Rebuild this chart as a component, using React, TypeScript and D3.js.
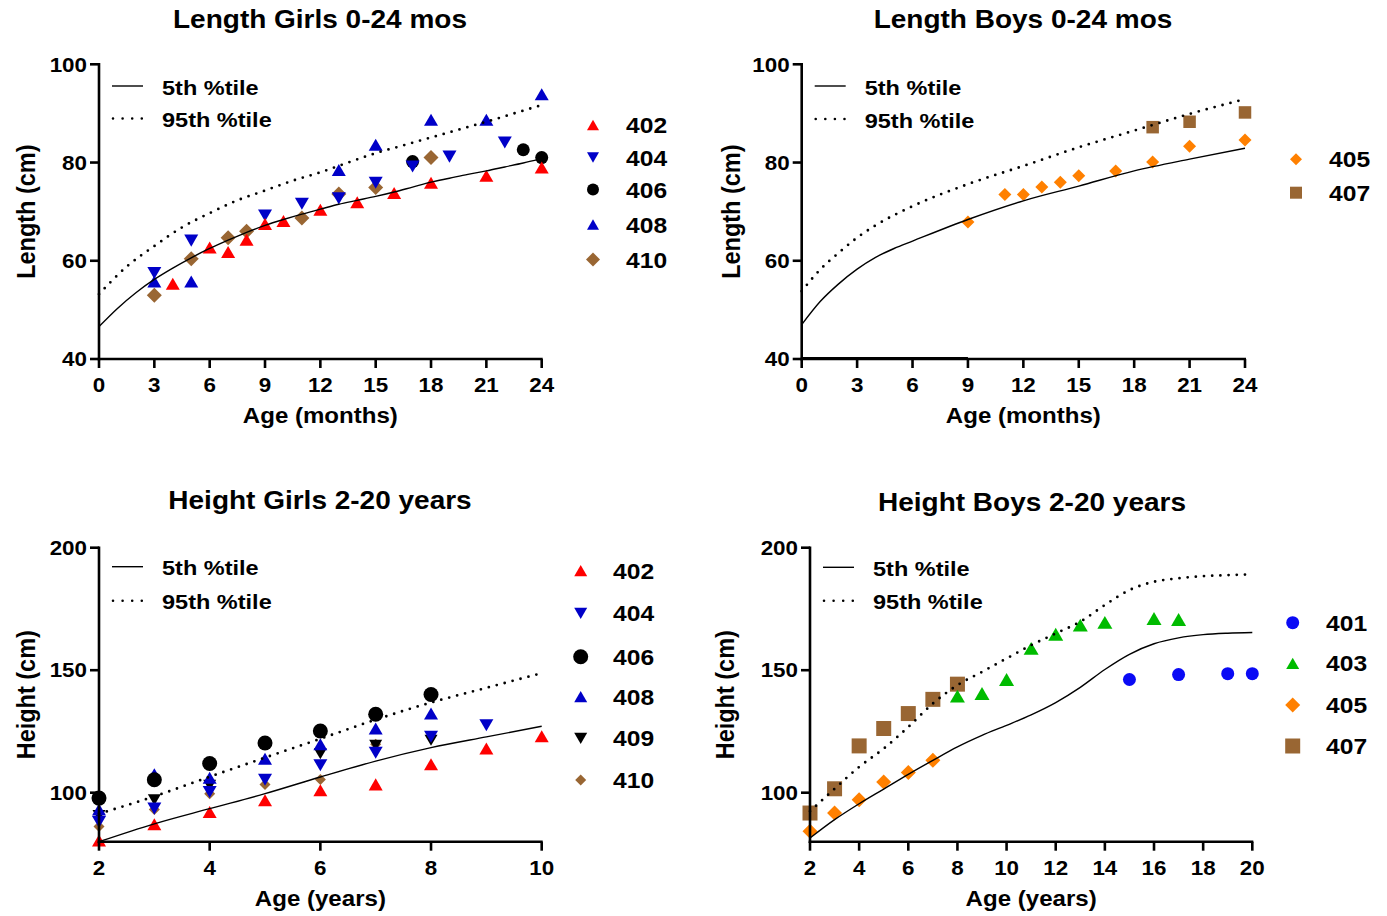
import React from "react";
import * as d3 from "d3";

const FONT = '"Liberation Sans", Arial, Helvetica, sans-serif';
const SX = 1.12; // horizontal widening of all lettering

// ---------- Length Girls 0-24 months ----------
const girls5Months = [0, 1, 2, 3, 4, 5, 6, 7, 8, 9, 10, 11, 12, 13, 14, 15, 16, 17, 18, 19, 20, 21, 22, 23, 24];
const girls5Length = [46.6, 50.3, 53.5, 56.2, 58.5, 60.6, 62.5, 64.2, 65.8, 67.2, 68.4, 69.5, 70.5, 71.5, 72.3, 73.1, 74.0, 75.0, 76.0, 76.8, 77.6, 78.3, 79.1, 79.9, 80.8];
const girls95Months = [0, 1.5, 3, 4.5, 6, 7.5, 9, 10.5, 12, 13.5, 15, 16.5, 18, 19.5, 21, 22.5, 24];
const girls95Length = [53.2, 58.8, 63.0, 66.8, 69.7, 72.3, 74.3, 76.3, 78.0, 80.0, 81.9, 83.5, 85.1, 86.7, 88.3, 90.0, 91.7];

const lg402Months = [4, 6, 7, 8, 9, 10, 12, 14, 16, 18, 21, 24];
const lg402Length = [55.3, 62.7, 61.8, 64.3, 67.5, 68.1, 70.4, 71.9, 73.8, 75.9, 77.3, 79.0];
const lg404Months = [3, 5, 9, 11, 13, 15, 17, 19, 22];
const lg404Length = [57.5, 64.1, 69.2, 71.6, 72.7, 75.9, 79.2, 81.2, 84.1];
const lg406Months = [17, 23, 24];
const lg406Length = [80.2, 82.6, 81.0];
const lg408Months = [3, 5, 13, 15, 18, 21, 24];
const lg408Length = [55.8, 55.8, 78.5, 83.6, 88.7, 88.7, 93.9];
const lg410Months = [3, 5, 7, 8, 11, 13, 15, 18];
const lg410Length = [53.0, 60.4, 64.7, 66.0, 68.7, 73.6, 74.9, 81.0];

// ---------- Length Boys 0-24 months ----------
const boys5Months = [0, 1, 2, 3, 4, 5, 6, 9, 12, 15, 18, 21, 24];
const boys5Length = [47.0, 51.7, 55.3, 58.3, 60.7, 62.5, 64.0, 68.4, 72.2, 75.2, 78.3, 80.7, 82.9];
const boys95Months = [0, 1, 2, 3, 4, 6, 9, 12, 15, 18, 21, 24];
const boys95Length = [53.8, 58.2, 61.6, 64.7, 67.2, 71.1, 75.6, 79.3, 83.1, 86.5, 89.9, 92.9];

const lb405Months = [9, 11, 12, 13, 14, 15, 17, 19, 21, 24];
const lb405Length = [67.9, 73.5, 73.5, 75.0, 76.0, 77.3, 78.3, 80.1, 83.3, 84.6];
const lb407Months = [19, 21, 24];
const lb407Length = [87.2, 88.3, 90.2];

// ---------- Height Girls 2-20 years ----------
const hGirlsYears = [2, 3, 4, 5, 6, 7, 8, 9, 10];
const hGirls5 = [80.0, 87.3, 93.5, 99.6, 106.4, 112.9, 118.4, 122.8, 127.1];
const hGirls95 = [91.4, 98.5, 106.5, 114.3, 122.0, 129.8, 136.8, 142.8, 148.8];

const hg402Years = [2, 3, 4, 5, 6, 7, 8, 9, 10];
const hg402Height = [80.5, 87.1, 92.1, 96.9, 101.0, 103.4, 111.6, 118.0, 123.0];
const hg404Years = [2, 3, 4, 5, 6, 7, 8, 9];
const hg404Height = [88.0, 93.5, 100.3, 105.3, 111.2, 116.3, 122.8, 127.5];
const hg406Years = [2, 3, 4, 5, 6, 7, 8];
const hg406Height = [97.8, 105.3, 111.9, 120.3, 125.2, 132.0, 140.1];
const hg408Years = [2, 3, 4, 5, 6, 7, 8];
const hg408Height = [93.1, 107.5, 106.1, 113.9, 119.8, 126.2, 132.3];
const hg409Years = [2, 3, 4, 6, 7, 8];
const hg409Height = [90.7, 97.1, 103.0, 115.9, 119.3, 121.4];
const hg410Years = [2, 3, 4, 5, 6, 7];
const hg410Height = [86.2, 93.1, 99.6, 103.3, 105.4, 119.8];

// ---------- Height Boys 2-20 years ----------
const hBoysYears = [2, 3, 4, 5, 6, 7, 8, 9, 10, 11, 12, 13, 14, 15, 16, 17, 18, 19, 20];
const hBoys5 = [81.5, 89.0, 95.5, 101.5, 107.5, 113.2, 118.7, 123.4, 127.5, 131.8, 136.8, 143.0, 150.3, 156.5, 160.8, 163.2, 164.5, 165.1, 165.4];
const hBoys95 = [92.4, 101.6, 110.5, 118.0, 126.8, 136.4, 143.9, 149.3, 154.8, 160.2, 165.0, 169.8, 176.6, 182.7, 186.1, 187.5, 188.4, 188.8, 189.1];

const hb401Years = [15, 17, 19, 20];
const hb401Height = [146.2, 148.2, 148.6, 148.6];
const hb403Years = [8, 9, 10, 11, 12, 13, 14, 16, 17];
const hb403Height = [139.4, 140.5, 146.2, 158.9, 164.7, 168.4, 169.5, 171.1, 170.7];
const hb405Years = [2, 3, 4, 5, 6, 7];
const hb405Height = [84.3, 91.7, 97.1, 104.4, 108.2, 113.2];
const hb407Years = [2, 3, 4, 5, 6, 7, 8];
const hb407Height = [91.7, 101.6, 119.1, 126.2, 132.3, 138.1, 144.3];

const RED = "#ff0000";
const NAVY = "#0000c8";
const BLUE = "#0a0af5";
const BLACK = "#000000";
const BROWN = "#996633";
const ORANGE = "#ff8000";
const GREEN = "#00bb00";

type Shape = "up" | "down" | "circle" | "diamond" | "square";

interface Series {
  name: string;
  color: string;
  shape: Shape;
  size: number; // plot marker size
  lsize: number; // legend marker size
  xs: number[];
  ys: number[];
}

function markerPath(shape: Shape, s: number): string {
  if (shape === "up" || shape === "down") {
    const w = s;
    const h = s * 0.86;
    const sg = shape === "up" ? 1 : -1;
    return `M0,${(-sg * h) / 2}L${w / 2},${(sg * h) / 2}L${-w / 2},${(sg * h) / 2}Z`;
  }
  if (shape === "diamond") {
    const r = s / 2;
    return `M0,${-r}L${r},0L0,${r}L${-r},0Z`;
  }
  if (shape === "square") {
    const r = s / 2;
    return `M${-r},${-r}H${r}V${r}H${-r}Z`;
  }
  const r = s / 2;
  return `M${-r},0A${r},${r},0,1,1,${r},0A${r},${r},0,1,1,${-r},0Z`;
}

function Marker({ shape, size, color, x, y }: { shape: Shape; size: number; color: string; x: number; y: number }) {
  return <path d={markerPath(shape, size)} fill={color} transform={`translate(${x},${y})`} />;
}

function Txt({
  x, y, size, children, anchor = "start", rotate = false, baseline,
}: {
  x: number; y: number; size: number; children: React.ReactNode; anchor?: string; rotate?: boolean; baseline?: string;
}) {
  const tf = rotate
    ? `translate(${x},${y}) rotate(-90) scale(1,${SX})`
    : `translate(${x},${y}) scale(${SX},1)`;
  return (
    <text
      transform={tf}
      fontFamily={FONT}
      fontWeight="bold"
      fontSize={size}
      textAnchor={anchor as any}
      dominantBaseline={baseline as any}
      fill="#000"
    >
      {children}
    </text>
  );
}

interface PanelProps {
  title: string;
  titleX: number;
  titleY: number;
  xLabel: string;
  yLabel: string;
  yLabelX: number;
  xDomain: [number, number];
  yDomain: [number, number];
  xTicks: number[];
  yTicks: number[];
  left: number;
  right: number;
  top: number;
  bottom: number;
  p5x: number[];
  p5y: number[];
  p95x: number[];
  p95y: number[];
  series: Series[];
  legendLineY: [number, number];
  legendMarkX: number;
  legendLabelX: number;
  legendRows: number[];
  axisExtraTo?: number;
}

function Panel(p: PanelProps) {
  const x = d3.scaleLinear().domain(p.xDomain).range([p.left, p.right]);
  const y = d3.scaleLinear().domain(p.yDomain).range([p.bottom, p.top]);
  const line = d3
    .line<[number, number]>()
    .x((d) => x(d[0]))
    .y((d) => y(d[1]))
    .curve(d3.curveMonotoneX);
  const p5 = line(p.p5x.map((v, i) => [v, p.p5y[i]] as [number, number])) || "";
  const p95 = line(p.p95x.map((v, i) => [v, p.p95y[i]] as [number, number])) || "";
  const midX = (p.left + p.right) / 2;
  const midY = (p.top + p.bottom) / 2;
  const axisW = 2.6;
  const tickLen = 9;
  const legLeft = p.left + 13;
  const legTextX = p.left + 63;
  // later series in the list sit underneath earlier ones
  const drawOrder = [...p.series].reverse();

  return (
    <g>
      <Txt x={p.titleX} y={p.titleY} size={25} anchor="middle">{p.title}</Txt>

      {/* data markers */}
      {drawOrder.map((s) =>
        s.xs.map((xv, i) => (
          <Marker key={`${s.name}-${i}`} shape={s.shape} size={s.size} color={s.color} x={x(xv)} y={y(s.ys[i])} />
        ))
      )}

      {/* percentile curves */}
      <path d={p5} fill="none" stroke="#000" strokeWidth={1.4} />
      <path d={p95} fill="none" stroke="#000" strokeWidth={2.8} strokeDasharray="0 8.2" strokeLinecap="round" />

      {/* axes */}
      <line x1={p.left} x2={p.left} y1={p.top - axisW / 2} y2={p.bottom + axisW / 2} stroke="#000" strokeWidth={axisW} />
      <line x1={p.left - axisW / 2} x2={p.right + 1} y1={p.bottom} y2={p.bottom} stroke="#000" strokeWidth={axisW} />
      {p.axisExtraTo !== undefined && (
        <line x1={p.left} x2={x(p.axisExtraTo)} y1={p.bottom - 1.3} y2={p.bottom - 1.3} stroke="#000" strokeWidth={1.6} />
      )}
      {p.yTicks.map((t) => (
        <g key={`yt${t}`}>
          <line x1={p.left - tickLen} x2={p.left} y1={y(t)} y2={y(t)} stroke="#000" strokeWidth={axisW} />
          <Txt x={p.left - 12} y={y(t) + 7.2} size={20} anchor="end">{t}</Txt>
        </g>
      ))}
      {p.xTicks.map((t) => (
        <g key={`xt${t}`}>
          <line x1={x(t)} x2={x(t)} y1={p.bottom} y2={p.bottom + tickLen} stroke="#000" strokeWidth={axisW} />
          <Txt x={x(t)} y={p.bottom + 33} size={20} anchor="middle">{t}</Txt>
        </g>
      ))}
      <Txt x={midX} y={p.bottom + 64} size={21.5} anchor="middle">{p.xLabel}</Txt>
      <Txt x={p.yLabelX} y={midY} size={23.5} anchor="middle" rotate baseline="middle">{p.yLabel}</Txt>

      {/* percentile key */}
      <line x1={legLeft} x2={legLeft + 31} y1={p.legendLineY[0]} y2={p.legendLineY[0]} stroke="#000" strokeWidth={1.4} />
      <Txt x={legTextX} y={p.legendLineY[0] + 8.5} size={21}>5th %tile</Txt>
      <line x1={legLeft + 1} x2={legLeft + 31} y1={p.legendLineY[1]} y2={p.legendLineY[1]} stroke="#000" strokeWidth={2.6} strokeDasharray="0 9.6" strokeLinecap="round" />
      <Txt x={legTextX} y={p.legendLineY[1] + 8.5} size={21}>95th %tile</Txt>

      {/* subject key */}
      {p.series.map((s, i) => (
        <g key={`lg${s.name}`}>
          <Marker shape={s.shape} size={s.lsize} color={s.color} x={p.legendMarkX} y={p.legendRows[i]} />
          <Txt x={p.legendLabelX} y={p.legendRows[i] + 8} size={22}>{s.name}</Txt>
        </g>
      ))}
    </g>
  );
}

const lengthGirlsSeries: Series[] = [
  { name: "402", color: RED, shape: "up", size: 14, lsize: 12, xs: lg402Months, ys: lg402Length },
  { name: "404", color: NAVY, shape: "down", size: 14, lsize: 12, xs: lg404Months, ys: lg404Length },
  { name: "406", color: BLACK, shape: "circle", size: 13, lsize: 12, xs: lg406Months, ys: lg406Length },
  { name: "408", color: NAVY, shape: "up", size: 14, lsize: 12, xs: lg408Months, ys: lg408Length },
  { name: "410", color: BROWN, shape: "diamond", size: 15, lsize: 14, xs: lg410Months, ys: lg410Length },
];

const lengthBoysSeries: Series[] = [
  { name: "405", color: ORANGE, shape: "diamond", size: 13, lsize: 12, xs: lb405Months, ys: lb405Length },
  { name: "407", color: BROWN, shape: "square", size: 12.5, lsize: 12, xs: lb407Months, ys: lb407Length },
];

const heightGirlsSeries: Series[] = [
  { name: "402", color: RED, shape: "up", size: 14, lsize: 13, xs: hg402Years, ys: hg402Height },
  { name: "404", color: NAVY, shape: "down", size: 14, lsize: 13, xs: hg404Years, ys: hg404Height },
  { name: "406", color: BLACK, shape: "circle", size: 15, lsize: 15, xs: hg406Years, ys: hg406Height },
  { name: "408", color: NAVY, shape: "up", size: 14, lsize: 13, xs: hg408Years, ys: hg408Height },
  { name: "409", color: BLACK, shape: "down", size: 13, lsize: 13, xs: hg409Years, ys: hg409Height },
  { name: "410", color: BROWN, shape: "diamond", size: 11, lsize: 11, xs: hg410Years, ys: hg410Height },
];

const heightBoysSeries: Series[] = [
  { name: "401", color: BLUE, shape: "circle", size: 13, lsize: 13, xs: hb401Years, ys: hb401Height },
  { name: "403", color: GREEN, shape: "up", size: 15, lsize: 13, xs: hb403Years, ys: hb403Height },
  { name: "405", color: ORANGE, shape: "diamond", size: 15, lsize: 15, xs: hb405Years, ys: hb405Height },
  { name: "407", color: BROWN, shape: "square", size: 15, lsize: 15, xs: hb407Years, ys: hb407Height },
];

export default function App() {
  return (
    <svg width={1387} height={916} style={{ display: "block", position: "absolute", left: 0, top: 0, background: "#fff" }}>
      <rect width={1387} height={916} fill="#fff" />
      <Panel
        title="Length Girls 0-24 mos" titleX={320} titleY={28}
        xLabel="Age (months)" yLabel="Length (cm)" yLabelX={28}
        xDomain={[0, 24]} yDomain={[40, 100]}
        xTicks={[0, 3, 6, 9, 12, 15, 18, 21, 24]} yTicks={[40, 60, 80, 100]}
        left={99} right={541.7} top={64.3} bottom={359}
        p5x={girls5Months} p5y={girls5Length} p95x={girls95Months} p95y={girls95Length}
        series={lengthGirlsSeries}
        legendLineY={[86, 118.5]} legendMarkX={593} legendLabelX={626}
        legendRows={[125, 157.5, 189.5, 224.5, 259.5]}
      />
      <Panel
        title="Length Boys 0-24 mos" titleX={1023} titleY={28}
        xLabel="Age (months)" yLabel="Length (cm)" yLabelX={733}
        xDomain={[0, 24]} yDomain={[40, 100]}
        xTicks={[0, 3, 6, 9, 12, 15, 18, 21, 24]} yTicks={[40, 60, 80, 100]}
        left={801.7} right={1245} top={64.3} bottom={359}
        p5x={boys5Months} p5y={boys5Length} p95x={boys95Months} p95y={boys95Length}
        series={lengthBoysSeries}
        legendLineY={[86, 119]} legendMarkX={1296} legendLabelX={1329}
        legendRows={[159.3, 192.7]}
        axisExtraTo={9}
      />
      <Panel
        title="Height Girls 2-20 years" titleX={320} titleY={509}
        xLabel="Age (years)" yLabel="Height (cm)" yLabelX={28}
        xDomain={[2, 10]} yDomain={[80, 200]}
        xTicks={[2, 4, 6, 8, 10]} yTicks={[100, 150, 200]}
        left={99} right={541.7} top={547.7} bottom={841.7}
        p5x={hGirlsYears} p5y={hGirls5} p95x={hGirlsYears} p95y={hGirls95}
        series={heightGirlsSeries}
        legendLineY={[566.7, 600.7]} legendMarkX={580.7} legendLabelX={613}
        legendRows={[570.7, 613.3, 656.7, 696.7, 738.3, 780]}
      />
      <Panel
        title="Height Boys 2-20 years" titleX={1032} titleY={511}
        xLabel="Age (years)" yLabel="Height (cm)" yLabelX={727}
        xDomain={[2, 20]} yDomain={[80, 200]}
        xTicks={[2, 4, 6, 8, 10, 12, 14, 16, 18, 20]} yTicks={[100, 150, 200]}
        left={810} right={1252.3} top={547.7} bottom={841.7}
        p5x={hBoysYears} p5y={hBoys5} p95x={hBoysYears} p95y={hBoys95}
        series={heightBoysSeries}
        legendLineY={[567.3, 600.7]} legendMarkX={1292.7} legendLabelX={1326}
        legendRows={[622.7, 663.3, 705, 746]}
      />
    </svg>
  );
}
